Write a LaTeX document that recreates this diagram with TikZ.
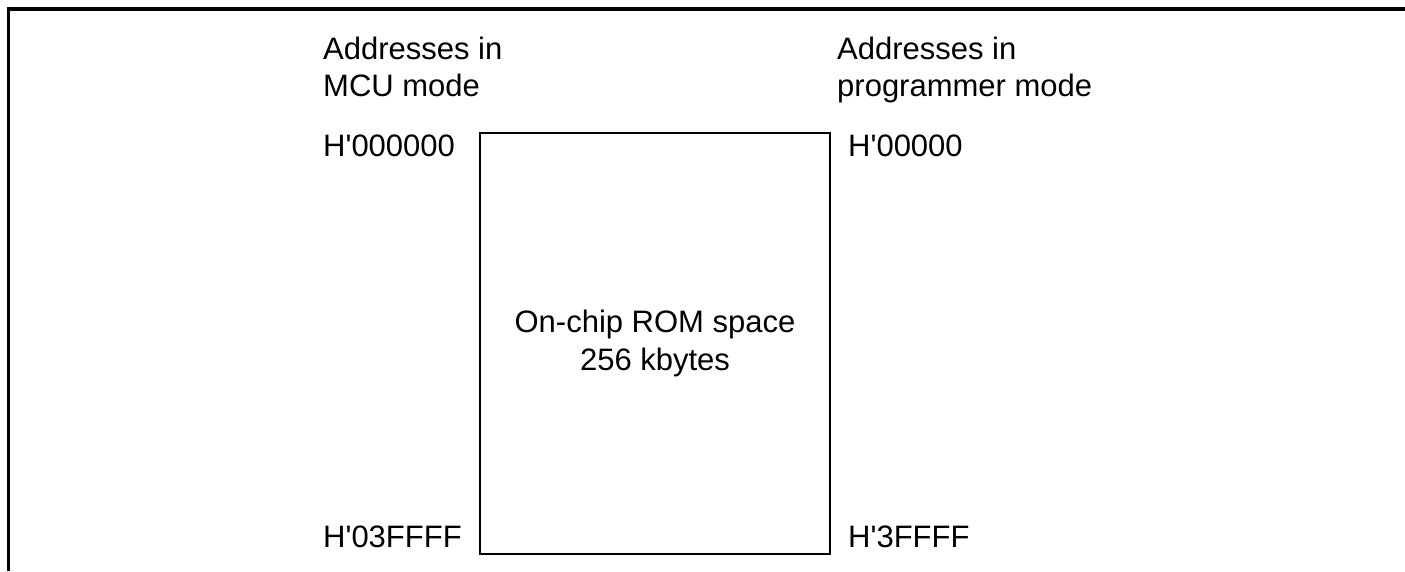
\documentclass[tikz,border=0pt]{standalone}
\usepackage{fontspec}
\setmainfont{Liberation Sans}
\newcommand{\q}{\textquotesingle}
\begin{document}
\begin{tikzpicture}[x=1pt,y=1pt,
  lbl/.style={inner sep=0pt,anchor=base west,align=left,font=\fontsize{31}{37}\selectfont},
  frame/.style={line width=3.5pt},
  rombox/.style={draw,line width=1.3pt,minimum width=350pt,minimum height=421pt,inner sep=0pt,align=center,font=\fontsize{31}{38}\selectfont}]
\useasboundingbox (0,0) rectangle (1405,571);
\coordinate (ftl) at (8.5,562);
\coordinate (ftr) at (1405,562);
\coordinate (fbl) at (8.5,0);
\draw[frame] (fbl) -- (ftl) -- (ftr);
\node[rombox] (rom) at (655,227.5) {On-chip ROM space\\256 kbytes};
\node[lbl] (mcu) at (323,474) {Addresses in\\MCU mode};
\node[lbl] (prg) at (837,474) {Addresses in\\programmer mode};
\node[lbl] (a0) at (323,414) {H\q 000000};
\node[lbl] (a1) at (323,24) {H\q 03FFFF};
\node[lbl] (b0) at (848,414) {H\q 00000};
\node[lbl] (b1) at (848,24) {H\q 3FFFF};
\end{tikzpicture}
\end{document}
